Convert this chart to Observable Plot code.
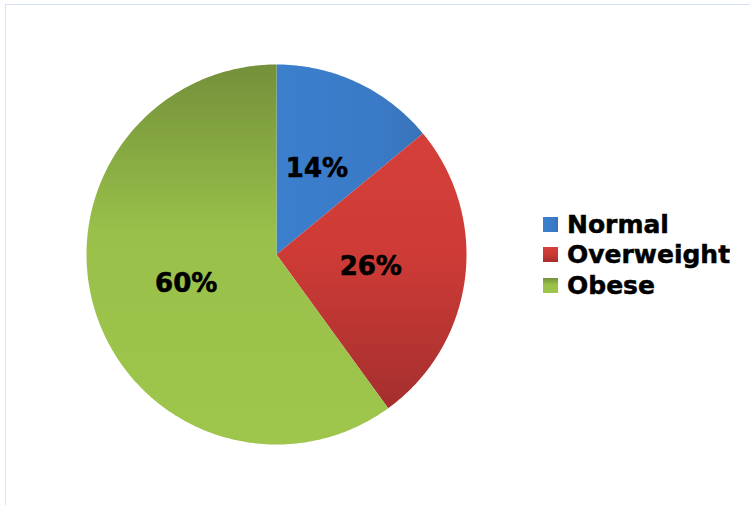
<!DOCTYPE html>
<html>
<head>
<meta charset="utf-8">
<script src="https://cdn.jsdelivr.net/npm/d3@7"></script>
<script src="https://cdn.jsdelivr.net/npm/@observablehq/plot@0.6"></script>
<style>
  html, body { margin: 0; padding: 0; background: #fff; }
  #wrap { position: relative; width: 750px; height: 505px; overflow: hidden; background: #fff; }
  #frame { position: absolute; left: 5px; top: 4px; width: 800px; height: 600px;
           border-left: 1.5px solid #d8e2f0; border-top: 1.5px solid #d8e2f0; pointer-events: none; }
  #chart { position: absolute; left: 0; top: 0; }
  #legend { position: absolute; left: 543px; top: 209px; }
  #legend .lg-swatch { height: 30.5px; display: flex; align-items: center; padding: 0 !important; margin: 0; }
  #legend .lg-swatch > svg { margin-right: 9px !important; }
  #legend, #legend * { font-family: "DejaVu Sans", sans-serif; font-weight: bold; font-size: 25px; color: #000;
                       -webkit-text-stroke: 0.5px #000; }
</style>
</head>
<body>
<div id="wrap">
  <div id="chart"></div>
  <div id="legend"></div>
  <div id="frame"></div>
</div>
<script>
// ---- data ----
const categories = ["Normal", "Overweight", "Obese"];
const values = [14, 26, 60];
const labels = ["14%", "26%", "60%"];
const fills = ["url(#gNormal)", "url(#gOverweight)", "url(#gObese)"];

// ---- slice geometry (unit circle, start at 12 o'clock, clockwise) ----
const arcs = d3.pie().sort(null).value(d => d)(values);
const slicePts = [];
arcs.forEach((a, i) => {
  slicePts.push({cat: categories[i], x: 0, y: 0});
  const n = Math.max(2, Math.ceil((a.endAngle - a.startAngle) / (Math.PI / 180)));
  for (let k = 0; k <= n; k++) {
    const t = a.startAngle + (a.endAngle - a.startAngle) * k / n;
    slicePts.push({cat: categories[i], x: Math.sin(t), y: Math.cos(t)});
  }
});
const labelPts = arcs.map((a, i) => {
  const m = (a.startAngle + a.endAngle) / 2;
  return {cat: categories[i], label: labels[i], x: 0.5 * Math.sin(m), y: 0.5 * Math.cos(m)};
});

const colorScale = {type: "ordinal", domain: categories, range: fills};

const plot = Plot.plot({
  width: 750,
  height: 505,
  margin: 0,
  style: {background: "transparent", overflow: "visible"},
  x: {domain: [-1, 1], range: [86, 466], axis: null},
  y: {domain: [-1, 1], range: [444, 64], axis: null},
  color: colorScale,
  marks: [
    Plot.line(slicePts, {x: "x", y: "y", z: "cat", fill: "cat", stroke: "none", curve: "linear-closed"}),
    Plot.text(labelPts, {x: "x", y: "y", text: "label", fill: "#000", stroke: "#000", strokeWidth: 0.6,
      fontSize: 26, fontWeight: "bold", fontFamily: "DejaVu Sans", textAnchor: "middle"})
  ]
});

// gradient definitions
const ns = "http://www.w3.org/2000/svg";
const defs = document.createElementNS(ns, "defs");
const grads = [
  {id: "gNormal", x2: 1, y2: 0, stops: [[0, "#3b7fcd"], [0.7, "#3a7ac6"], [1, "#3873b8"]]},
  {id: "gOverweight", x2: 0, y2: 1, stops: [[0, "#d53f39"], [0.45, "#cd3b36"], [1, "#a42f2e"]]},
  {id: "gObese", x2: 0, y2: 1, stops: [[0, "#74903a"], [0.45, "#99c14a"], [1, "#9ec64c"]]}
];
for (const g of grads) {
  const lg = document.createElementNS(ns, "linearGradient");
  lg.setAttribute("id", g.id);
  lg.setAttribute("x1", 0); lg.setAttribute("y1", 0);
  lg.setAttribute("x2", g.x2); lg.setAttribute("y2", g.y2);
  for (const [o, c] of g.stops) {
    const s = document.createElementNS(ns, "stop");
    s.setAttribute("offset", o);
    s.setAttribute("stop-color", c);
    lg.appendChild(s);
  }
  defs.appendChild(lg);
}
plot.insertBefore(defs, plot.firstChild);
document.getElementById("chart").appendChild(plot);

const legend = Plot.legend({
  color: colorScale,
  legend: "swatches",
  columns: 1,
  swatchSize: 15,
  className: "lg"
});
document.getElementById("legend").appendChild(legend);
</script>
</body>
</html>
